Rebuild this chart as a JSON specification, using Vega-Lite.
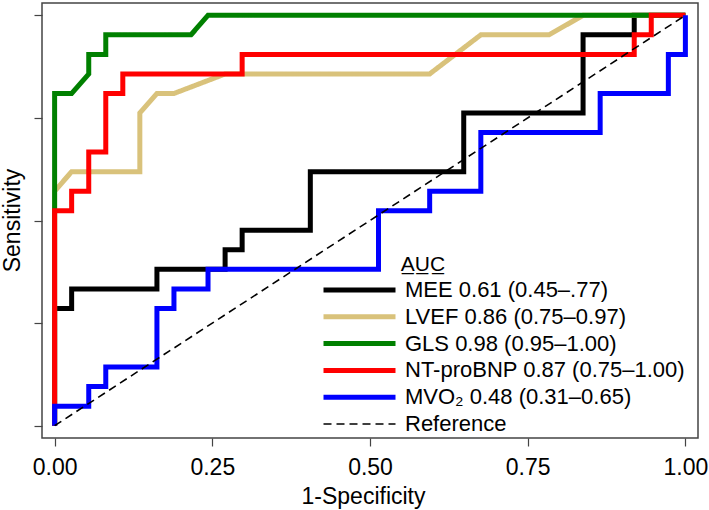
{
  "$schema": "https://vega.github.io/schema/vega-lite/v6.json",
  "width": 656,
  "height": 435,
  "autosize": "none",
  "padding": {"left": 42, "top": 3, "right": 11, "bottom": 72},
  "background": "white",
  "config": {
    "view": {"stroke": "#444444", "strokeWidth": 1.5},
    "font": "Liberation Sans"
  },
  "data": {
    "values": [
      {"s": "MEE 0.61 (0.45–.77)", "o": 0, "x": 0, "y": 0},
      {"s": "MEE 0.61 (0.45–.77)", "o": 1, "x": 0, "y": 0.2857},
      {"s": "MEE 0.61 (0.45–.77)", "o": 2, "x": 0.027, "y": 0.2857},
      {"s": "MEE 0.61 (0.45–.77)", "o": 3, "x": 0.027, "y": 0.3333},
      {"s": "MEE 0.61 (0.45–.77)", "o": 4, "x": 0.1622, "y": 0.3333},
      {"s": "MEE 0.61 (0.45–.77)", "o": 5, "x": 0.1622, "y": 0.381},
      {"s": "MEE 0.61 (0.45–.77)", "o": 6, "x": 0.2703, "y": 0.381},
      {"s": "MEE 0.61 (0.45–.77)", "o": 7, "x": 0.2703, "y": 0.4286},
      {"s": "MEE 0.61 (0.45–.77)", "o": 8, "x": 0.2973, "y": 0.4286},
      {"s": "MEE 0.61 (0.45–.77)", "o": 9, "x": 0.2973, "y": 0.4762},
      {"s": "MEE 0.61 (0.45–.77)", "o": 10, "x": 0.4054, "y": 0.4762},
      {"s": "MEE 0.61 (0.45–.77)", "o": 11, "x": 0.4054, "y": 0.619},
      {"s": "MEE 0.61 (0.45–.77)", "o": 12, "x": 0.6486, "y": 0.619},
      {"s": "MEE 0.61 (0.45–.77)", "o": 13, "x": 0.6486, "y": 0.7619},
      {"s": "MEE 0.61 (0.45–.77)", "o": 14, "x": 0.8378, "y": 0.7619},
      {"s": "MEE 0.61 (0.45–.77)", "o": 15, "x": 0.8378, "y": 0.9524},
      {"s": "MEE 0.61 (0.45–.77)", "o": 16, "x": 0.9189, "y": 0.9524},
      {"s": "MEE 0.61 (0.45–.77)", "o": 17, "x": 0.9189, "y": 1},
      {"s": "MEE 0.61 (0.45–.77)", "o": 18, "x": 1, "y": 1},

      {"s": "LVEF 0.86 (0.75–0.97)", "o": 0, "x": 0, "y": 0},
      {"s": "LVEF 0.86 (0.75–0.97)", "o": 1, "x": 0, "y": 0.5714},
      {"s": "LVEF 0.86 (0.75–0.97)", "o": 2, "x": 0.027, "y": 0.619},
      {"s": "LVEF 0.86 (0.75–0.97)", "o": 3, "x": 0.1351, "y": 0.619},
      {"s": "LVEF 0.86 (0.75–0.97)", "o": 4, "x": 0.1351, "y": 0.7619},
      {"s": "LVEF 0.86 (0.75–0.97)", "o": 5, "x": 0.1622, "y": 0.8095},
      {"s": "LVEF 0.86 (0.75–0.97)", "o": 6, "x": 0.1892, "y": 0.8095},
      {"s": "LVEF 0.86 (0.75–0.97)", "o": 7, "x": 0.2703, "y": 0.8571},
      {"s": "LVEF 0.86 (0.75–0.97)", "o": 8, "x": 0.5946, "y": 0.8571},
      {"s": "LVEF 0.86 (0.75–0.97)", "o": 9, "x": 0.6757, "y": 0.9524},
      {"s": "LVEF 0.86 (0.75–0.97)", "o": 10, "x": 0.7838, "y": 0.9524},
      {"s": "LVEF 0.86 (0.75–0.97)", "o": 11, "x": 0.8378, "y": 1},
      {"s": "LVEF 0.86 (0.75–0.97)", "o": 12, "x": 1, "y": 1},

      {"s": "GLS 0.98 (0.95–1.00)", "o": 0, "x": 0, "y": 0},
      {"s": "GLS 0.98 (0.95–1.00)", "o": 1, "x": 0, "y": 0.8095},
      {"s": "GLS 0.98 (0.95–1.00)", "o": 2, "x": 0.027, "y": 0.8095},
      {"s": "GLS 0.98 (0.95–1.00)", "o": 3, "x": 0.0541, "y": 0.8571},
      {"s": "GLS 0.98 (0.95–1.00)", "o": 4, "x": 0.0541, "y": 0.9048},
      {"s": "GLS 0.98 (0.95–1.00)", "o": 5, "x": 0.0811, "y": 0.9048},
      {"s": "GLS 0.98 (0.95–1.00)", "o": 6, "x": 0.0811, "y": 0.9524},
      {"s": "GLS 0.98 (0.95–1.00)", "o": 7, "x": 0.2162, "y": 0.9524},
      {"s": "GLS 0.98 (0.95–1.00)", "o": 8, "x": 0.2432, "y": 1},
      {"s": "GLS 0.98 (0.95–1.00)", "o": 9, "x": 1, "y": 1},

      {"s": "NT-proBNP 0.87 (0.75–1.00)", "o": 0, "x": 0, "y": 0},
      {"s": "NT-proBNP 0.87 (0.75–1.00)", "o": 1, "x": 0, "y": 0.5238},
      {"s": "NT-proBNP 0.87 (0.75–1.00)", "o": 2, "x": 0.027, "y": 0.5238},
      {"s": "NT-proBNP 0.87 (0.75–1.00)", "o": 3, "x": 0.027, "y": 0.5714},
      {"s": "NT-proBNP 0.87 (0.75–1.00)", "o": 4, "x": 0.0541, "y": 0.5714},
      {"s": "NT-proBNP 0.87 (0.75–1.00)", "o": 5, "x": 0.0541, "y": 0.6667},
      {"s": "NT-proBNP 0.87 (0.75–1.00)", "o": 6, "x": 0.0811, "y": 0.6667},
      {"s": "NT-proBNP 0.87 (0.75–1.00)", "o": 7, "x": 0.0811, "y": 0.8095},
      {"s": "NT-proBNP 0.87 (0.75–1.00)", "o": 8, "x": 0.1081, "y": 0.8095},
      {"s": "NT-proBNP 0.87 (0.75–1.00)", "o": 9, "x": 0.1081, "y": 0.8571},
      {"s": "NT-proBNP 0.87 (0.75–1.00)", "o": 10, "x": 0.2973, "y": 0.8571},
      {"s": "NT-proBNP 0.87 (0.75–1.00)", "o": 11, "x": 0.2973, "y": 0.9048},
      {"s": "NT-proBNP 0.87 (0.75–1.00)", "o": 12, "x": 0.9189, "y": 0.9048},
      {"s": "NT-proBNP 0.87 (0.75–1.00)", "o": 13, "x": 0.9189, "y": 0.9524},
      {"s": "NT-proBNP 0.87 (0.75–1.00)", "o": 14, "x": 0.9459, "y": 0.9524},
      {"s": "NT-proBNP 0.87 (0.75–1.00)", "o": 15, "x": 0.9459, "y": 1},
      {"s": "NT-proBNP 0.87 (0.75–1.00)", "o": 16, "x": 1, "y": 1},

      {"s": "MVO₂ 0.48 (0.31–0.65)", "o": 0, "x": 0, "y": 0},
      {"s": "MVO₂ 0.48 (0.31–0.65)", "o": 1, "x": 0, "y": 0.0476},
      {"s": "MVO₂ 0.48 (0.31–0.65)", "o": 2, "x": 0.0541, "y": 0.0476},
      {"s": "MVO₂ 0.48 (0.31–0.65)", "o": 3, "x": 0.0541, "y": 0.0952},
      {"s": "MVO₂ 0.48 (0.31–0.65)", "o": 4, "x": 0.0811, "y": 0.0952},
      {"s": "MVO₂ 0.48 (0.31–0.65)", "o": 5, "x": 0.0811, "y": 0.1429},
      {"s": "MVO₂ 0.48 (0.31–0.65)", "o": 6, "x": 0.1622, "y": 0.1429},
      {"s": "MVO₂ 0.48 (0.31–0.65)", "o": 7, "x": 0.1622, "y": 0.2857},
      {"s": "MVO₂ 0.48 (0.31–0.65)", "o": 8, "x": 0.1892, "y": 0.2857},
      {"s": "MVO₂ 0.48 (0.31–0.65)", "o": 9, "x": 0.1892, "y": 0.3333},
      {"s": "MVO₂ 0.48 (0.31–0.65)", "o": 10, "x": 0.2432, "y": 0.3333},
      {"s": "MVO₂ 0.48 (0.31–0.65)", "o": 11, "x": 0.2432, "y": 0.381},
      {"s": "MVO₂ 0.48 (0.31–0.65)", "o": 12, "x": 0.5135, "y": 0.381},
      {"s": "MVO₂ 0.48 (0.31–0.65)", "o": 13, "x": 0.5135, "y": 0.5238},
      {"s": "MVO₂ 0.48 (0.31–0.65)", "o": 14, "x": 0.5946, "y": 0.5238},
      {"s": "MVO₂ 0.48 (0.31–0.65)", "o": 15, "x": 0.5946, "y": 0.5714},
      {"s": "MVO₂ 0.48 (0.31–0.65)", "o": 16, "x": 0.6757, "y": 0.5714},
      {"s": "MVO₂ 0.48 (0.31–0.65)", "o": 17, "x": 0.6757, "y": 0.7143},
      {"s": "MVO₂ 0.48 (0.31–0.65)", "o": 18, "x": 0.8649, "y": 0.7143},
      {"s": "MVO₂ 0.48 (0.31–0.65)", "o": 19, "x": 0.8649, "y": 0.8095},
      {"s": "MVO₂ 0.48 (0.31–0.65)", "o": 20, "x": 0.973, "y": 0.8095},
      {"s": "MVO₂ 0.48 (0.31–0.65)", "o": 21, "x": 0.973, "y": 0.9048},
      {"s": "MVO₂ 0.48 (0.31–0.65)", "o": 22, "x": 1, "y": 0.9048},
      {"s": "MVO₂ 0.48 (0.31–0.65)", "o": 23, "x": 1, "y": 1},

      {"s": "Reference", "o": 0, "x": 0, "y": 0},
      {"s": "Reference", "o": 1, "x": 1, "y": 1}
    ]
  },
  "mark": {"type": "line", "strokeCap": "butt", "strokeJoin": "miter", "clip": false},
  "encoding": {
    "x": {
      "field": "x", "type": "quantitative",
      "scale": {"domain": [-0.02, 1.02], "nice": false, "zero": false},
      "axis": {
        "values": [0, 0.25, 0.5, 0.75, 1], "format": ".2f", "grid": false, "domain": false,
        "tickSize": 8, "tickColor": "#444444", "tickWidth": 1.2,
        "labelFontSize": 23, "labelColor": "#000000", "labelFont": "Liberation Sans",
        "labelBaseline": "alphabetic", "labelPadding": 28, "labelFlush": false,
        "title": "1-Specificity", "titleFontSize": 23, "titleFontWeight": "normal",
        "titleColor": "#000000", "titleFont": "Liberation Sans",
        "titleBaseline": "alphabetic", "titleY": 65, "titleX": 321, "titleAlign": "center"
      }
    },
    "y": {
      "field": "y", "type": "quantitative",
      "scale": {"domain": [-0.03, 1.03], "nice": false, "zero": false},
      "axis": {
        "values": [0, 0.25, 0.5, 0.75, 1], "labels": false, "grid": false, "domain": false,
        "tickSize": 8, "tickColor": "#444444", "tickWidth": 1.2,
        "title": "Sensitivity", "titleFontSize": 23, "titleFontWeight": "normal",
        "titleColor": "#000000", "titleFont": "Liberation Sans",
        "titleBaseline": "alphabetic", "titleX": -23, "titleY": 217, "titleAngle": -90, "titleAlign": "center"
      }
    },
    "order": {"field": "o", "type": "quantitative"},
    "color": {
      "field": "s", "type": "nominal",
      "scale": {
        "domain": ["MEE 0.61 (0.45–.77)", "LVEF 0.86 (0.75–0.97)", "GLS 0.98 (0.95–1.00)", "NT-proBNP 0.87 (0.75–1.00)", "MVO₂ 0.48 (0.31–0.65)", "Reference"],
        "range": ["#000000", "#D9C27B", "#008000", "#FF0000", "#0000FF", "#000000"]
      },
      "legend": {
        "orient": "none", "legendX": 338, "legendY": 251, "padding": 0,
        "title": "\u2800\u00a0A\u0332U\u0332C\u0332",
        "titleFontSize": 21, "titleFontWeight": "normal", "titleColor": "#000000", "titleFont": "Liberation Sans",
        "titlePadding": 4,
        "labelFontSize": 22, "labelColor": "#000000", "labelFont": "Liberation Sans", "labelOffset": 3, "labelLimit": 0,
        "symbolType": "M-15,0H1", "symbolSize": 81, "rowPadding": 4.8
      }
    },
    "strokeDash": {
      "field": "s", "type": "nominal",
      "scale": {
        "domain": ["MEE 0.61 (0.45–.77)", "LVEF 0.86 (0.75–0.97)", "GLS 0.98 (0.95–1.00)", "NT-proBNP 0.87 (0.75–1.00)", "MVO₂ 0.48 (0.31–0.65)", "Reference"],
        "range": [[1, 0], [1, 0], [1, 0], [1, 0], [1, 0], [8, 5]]
      }
    },
    "strokeWidth": {
      "field": "s", "type": "nominal",
      "scale": {
        "type": "ordinal",
        "domain": ["MEE 0.61 (0.45–.77)", "LVEF 0.86 (0.75–0.97)", "GLS 0.98 (0.95–1.00)", "NT-proBNP 0.87 (0.75–1.00)", "MVO₂ 0.48 (0.31–0.65)", "Reference"],
        "range": [5, 5, 5, 5, 5, 1.6]
      }
    }
  }
}
